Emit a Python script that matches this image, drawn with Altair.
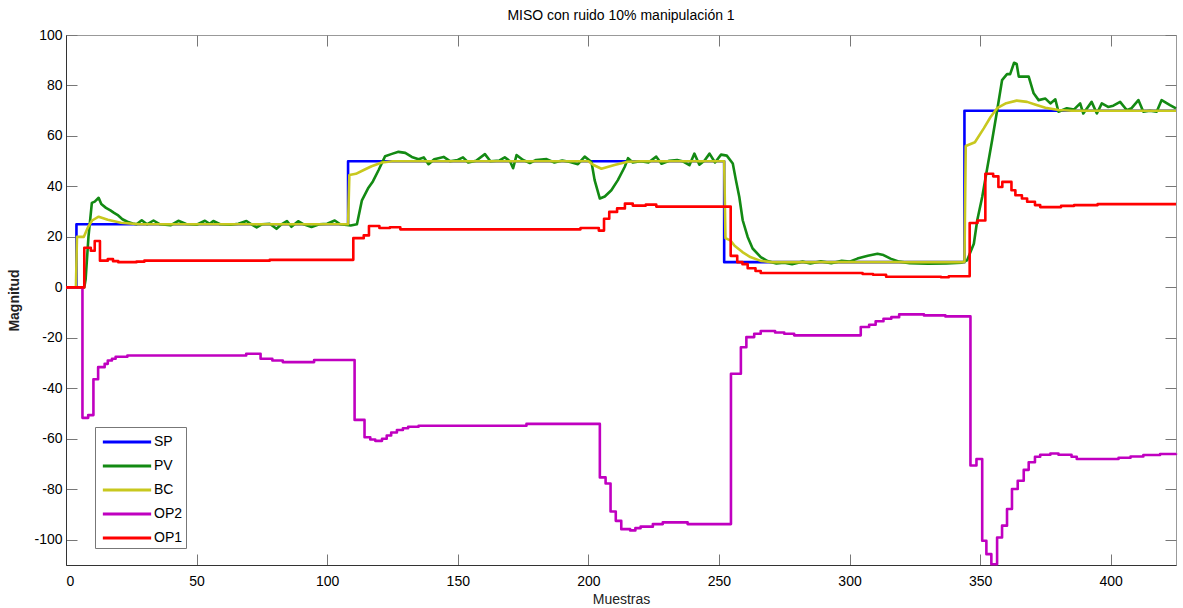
import altair as alt
import pandas as pd

FONT = "Liberation Sans"
SERIES = ["SP", "PV", "BC", "OP2", "OP1"]
COLORS = ["#0000ff", "#138a13", "#c8c81e", "#c000c0", "#ff0000"]

# ---- SP (step) ----
sp_x = [0, 4, 108, 252, 344, 425]
sp_y = [0, 25, 50, 10, 70, 70]

# ---- PV (noisy process variable) ----
pv_x = [0, 7, 7.5, 8.6, 9.9, 11, 12.5, 13.5, 15.3, 17, 18.4, 20, 21.6, 23.5, 25.5, 27, 29, 31,
        33.5, 36, 40, 43, 46, 50, 53.2, 55, 56.4, 59, 63, 66, 69.1, 71, 73, 75, 78, 80.6, 82.5,
        84.6, 86.3, 88.9, 91, 94, 97, 100, 102.9, 105, 109, 111.4, 113.3, 115.8, 117.5, 119.7,
        122.2, 124.5, 127.3, 129.9, 132.4, 135, 137, 138.8, 141, 144.6, 147, 150, 152, 154, 157,
        160.4, 162.5, 166, 168, 170, 171.2, 172.5, 175, 177.6, 180, 184, 187, 190, 193, 196,
        198.6, 201.2, 202.4, 204.4, 206.3, 208.8, 211.3, 213.9, 215.2, 217, 220, 223, 226, 228,
        231, 234, 236, 238.7, 240.6, 242.5, 244.5, 246.4, 248.5, 250.8, 253, 255.3, 256.5, 257.8,
        259.1, 261, 262.9, 266, 268.6, 272, 275, 278, 282, 285, 289, 293, 297, 300, 303, 307,
        310.7, 313, 315.7, 319, 323, 330, 337, 343, 345, 347.6, 348.9, 350.8, 352.7, 354.6,
        356.5, 358.4, 360.3, 361.5, 363, 364, 364.8, 368.6, 370.5, 372.4, 375, 376.9, 378.8, 380,
        383.2, 386, 388.3, 389.5, 392.7, 394.7, 396.6, 399, 401, 403.6, 406.2, 408, 410.6, 412.5,
        415, 417.6, 419.5, 422.7, 425]
pv_y = [0, 0, 3, 20, 33.5, 34, 35.5, 33, 31.5, 30.5, 29.5, 28.5, 27, 26, 25.3, 25, 26.6, 25,
        26.5, 25, 24.6, 26.4, 25.1, 24.8, 26.4, 25.2, 26.3, 25, 24.8, 25.2, 26.3, 25, 23.8, 25,
        25.2, 23.2, 25, 26.3, 24, 26.2, 25, 23.9, 25, 25.2, 26.5, 25, 24.5, 25, 34.5, 39.5, 42,
        46.5, 52, 52.8, 53.7, 53.3, 51.7, 50.8, 51.5, 48.8, 50.8, 51.7, 50, 50.5, 51.5, 49.5,
        50.2, 52.8, 50, 50.3, 51.5, 50, 47.2, 52.4, 50.5, 49.3, 50.5, 50.8, 49.5, 50.3, 49.7,
        48.8, 51.8, 49.7, 42.5, 35.2, 36, 38.5, 42.5, 47.7, 51.2, 49.5, 50, 49.5, 51.8, 49, 50.2,
        50.5, 50, 48.4, 53, 48.6, 50.3, 53, 49.5, 52.6, 52.2, 49.1, 42.5, 35.8, 26.6, 20, 15.4,
        12, 10.4, 9.5, 9.8, 9.2, 10.2, 9.5, 10.3, 9.6, 10.5, 10.2, 11.4, 12.5, 13.3, 12.8, 11.4,
        10.2, 9.6, 9.4, 9.5, 9.8, 10.7, 17.3, 26.6, 35.8, 47.1, 58.3, 70, 82.1, 84.5, 84.5, 89,
        88.5, 83.5, 83.5, 76.9, 74.2, 74.8, 72.9, 74.5, 69.6, 71, 70.5, 72.9, 68.9, 73.5, 68.9,
        72.9, 71.5, 72, 73.5, 70.2, 71, 74.2, 69.6, 70, 69.6, 74.2, 72.2, 70.9]

# ---- BC (smooth reference model) ----
bc_x = [0, 3.8, 4.2, 6.8, 8.5, 10, 12.5, 16, 21, 28, 108, 108.5, 111, 114, 117, 121, 125, 200,
        202, 205, 210, 215, 220, 252, 252.5, 254.5, 256, 259, 262, 266, 270, 344, 344.5, 348,
        351.4, 354, 356.5, 360, 364, 368, 371, 375, 380, 385, 425]
bc_y = [0, 0, 20, 20, 24, 26.5, 28, 26.8, 25.6, 25, 25, 44.5, 45, 46.5, 48, 49.5, 50, 50,
        48.5, 47, 48.5, 49.8, 50, 50, 19.5, 18.5, 16.5, 14, 12, 10.5, 10, 10, 56, 57.5,
        63, 67.5, 71, 73, 74, 73.5, 72.5, 71.2, 70.3, 70, 70]

# ---- OP2 (step) ----
op2_x = [0, 6.3, 8.5, 10.5, 12.3, 14.8, 16, 17.6, 19, 23.5, 69, 74.5, 79, 83, 95, 110.5, 114.3,
         116.5, 118.4, 121, 122.8, 124.5, 126.7, 129, 131, 135, 176.3, 204.4, 206.6, 208.5,
         210.5, 212.6, 216, 218, 220, 224.7, 228.5, 238, 254.6, 258.4, 260.5, 263.5, 266, 271.5,
         275, 278.8, 304.3, 307.5, 310, 313, 316, 319, 328.5, 336.7, 346.3, 348.6, 350.8, 352.4,
         354.3, 356.5, 358.4, 360.3, 362.2, 364.4, 366.7, 368.6, 371, 373, 376.9, 380, 385, 387,
         403, 407.6, 412.5, 418.9, 425]
op2_y = [0, -51.7, -50.6, -36.4, -31.6, -30.3, -29, -28.3, -27.5, -27, -26.3, -28.3, -29,
         -29.6, -28.8, -52.5, -59.4, -60.3, -60.8, -60, -58.7, -57.5, -56.5, -55.8, -55.2,
         -54.8, -54.1, -75.3, -77.7, -88.8, -92.5, -95.8, -96.3, -95.4, -94.8, -93.8, -93.1,
         -93.8, -34.2, -23.7, -19.7, -18.4, -17.3, -17.9, -18.4, -19, -15.7, -14.8, -13.4,
         -12.4, -11.8, -10.7, -11.1, -11.5, -70.6, -68, -100.4, -105.7, -109.7, -99.1, -94.4,
         -87.8, -79.9, -76.6, -72.3, -69.3, -67.1, -66.3, -65.8, -66.3, -67.1, -68, -67.5, -67,
         -66.4, -66, -65.8]

# ---- OP1 (step) ----
op1_x = [0, 7, 9.5, 11, 13, 16, 18, 20, 27, 30, 78, 110, 114, 116, 120, 124, 128, 197, 204,
         206, 208, 211, 214, 217, 222, 226, 254.5, 257, 259, 261, 264, 266, 305, 309, 314, 335,
         338, 346, 349, 352, 355, 357, 358.5, 362, 363.5, 366, 368, 371, 373, 381, 386, 395, 425]
op1_y = [0, 15.7, 14.5, 18.4, 10.6, 11.2, 10.4, 10, 10.2, 10.6, 10.9, 19.5, 20.6, 24.3, 23.5,
         23.8, 23, 23.5, 22.5, 27.2, 29.9, 31.3, 33.2, 32.4, 32.8, 32, 12.5, 10, 9.2, 7.6, 6.5,
         5.7, 5.3, 5, 4.2, 4, 4.4, 25.5, 26.5, 45, 44, 39.8, 41.8, 38.5, 36.5, 35.2, 33.9, 32.6,
         31.8, 32.3, 32.6, 33, 33]

X_TICKS = [0, 50, 100, 150, 200, 250, 300, 350, 400]
Y_TICKS = [-100, -80, -60, -40, -20, 0, 20, 40, 60, 80, 100]


def steps(xs, ys):
    px, py = [], []
    for i, (x, y) in enumerate(zip(xs, ys)):
        if i > 0:
            px.append(x)
            py.append(ys[i - 1])
        px.append(x)
        py.append(y)
    return px, py


rows = []
k = 0
for name, xs, ys, is_step in [("SP", sp_x, sp_y, True), ("PV", pv_x, pv_y, False),
                              ("BC", bc_x, bc_y, False), ("OP2", op2_x, op2_y, True),
                              ("OP1", op1_x, op1_y, True)]:
    if is_step:
        xs, ys = steps(xs, ys)
    for x, y in zip(xs, ys):
        rows.append({"t": x, "v": y, "serie": name, "idx": k})
        k += 1
df = pd.DataFrame(rows)

W, H = 1110, 530
TL = 11

chart = alt.Chart(df).mark_line(strokeWidth=2.6, strokeJoin="round").encode(
    x=alt.X("t:Q", scale=alt.Scale(domain=[0, 425], nice=False, zero=False),
            axis=alt.Axis(values=X_TICKS, title="Muestras", labelExpr="'' + datum.value",
                          gridDash=[TL, H - 2 * TL, TL, 4000])),
    y=alt.Y("v:Q", scale=alt.Scale(domain=[-110, 100], nice=False, zero=False),
            axis=alt.Axis(values=Y_TICKS, title="Magnitud", labelExpr="'' + datum.value",
                          titleFontWeight="bold", titlePadding=12, labelPadding=4,
                          gridDash=[TL, W - 2 * TL, TL, 4000])),
    color=alt.Color("serie:N", scale=alt.Scale(domain=SERIES, range=COLORS),
                    legend=alt.Legend(orient="none", legendX=29, legendY=392, title=None,
                                      padding=3, rowPadding=5, symbolType="M-2.3,0L2.3,0",
                                      symbolSize=441, symbolStrokeWidth=3, symbolOffset=17,
                                      labelOffset=15, labelFontSize=14, labelFont=FONT,
                                      labelColor="#000", strokeColor="#777", fillColor="#fff")),
    order=alt.Order("idx:Q"),
).properties(
    width=W, height=H,
    title=alt.TitleParams("MISO con ruido 10% manipulación 1", fontSize=14, fontWeight="normal",
                          font=FONT, anchor="middle", frame="group", offset=5, color="#000"),
    autosize=alt.AutoSizeParams(type="none"),
    padding={"left": 66, "top": 35, "right": 7, "bottom": 43},
).configure_view(stroke="#999", strokeWidth=1).configure_axis(
    labelFont=FONT, labelFontSize=14, labelColor="#000", titleFont=FONT, titleFontSize=14,
    titleColor="#222", ticks=False, tickSize=0, domainColor="#333", domainWidth=1,
    grid=True, gridColor="#777", gridWidth=1,
).configure_axisX(labelPadding=9, titlePadding=4, titleFontWeight="normal")

chart.save("out.html", embed_options={"renderer": "svg", "actions": False})
